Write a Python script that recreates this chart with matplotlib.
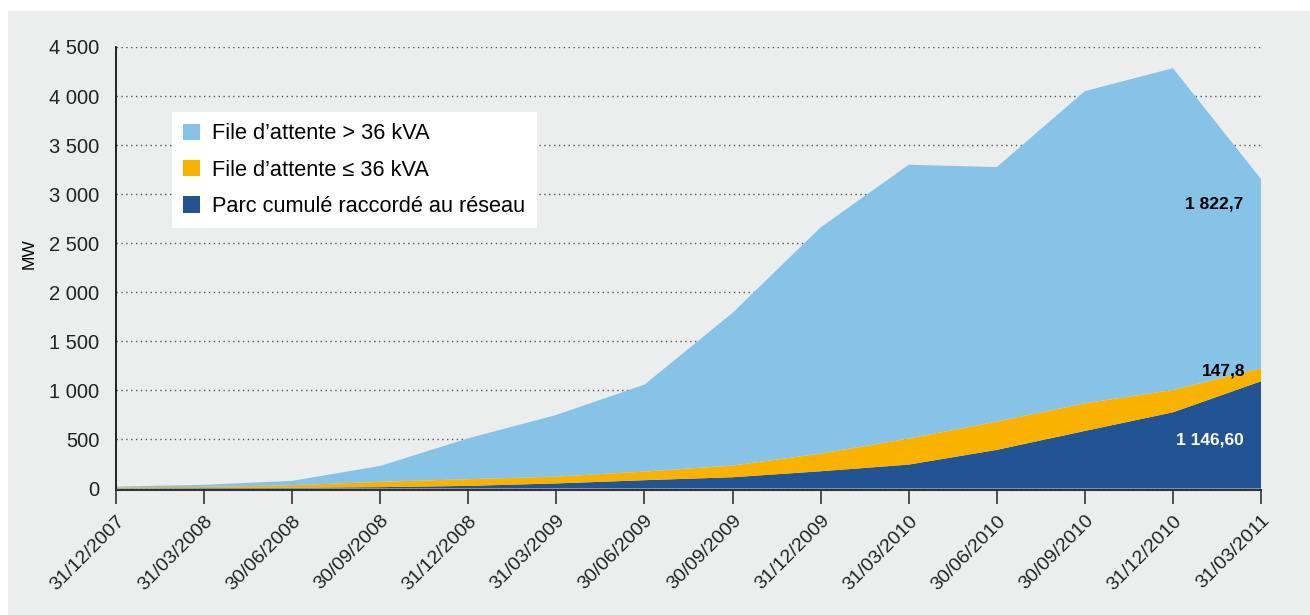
import matplotlib.pyplot as plt
import numpy as np
from matplotlib.patches import Rectangle

# %% Data (MW)

dates = [
    "31/12/2007", "31/03/2008", "30/06/2008", "30/09/2008", "31/12/2008",
    "31/03/2009", "30/06/2009", "30/09/2009", "31/12/2009", "31/03/2010",
    "30/06/2010", "30/09/2010", "31/12/2010", "31/03/2011",
]
# Cumulative installed capacity connected to the grid
parc = [3, 5, 8, 14, 27, 52, 85, 115, 176, 244, 394, 587, 777, 1093]
# Queue <= 36 kVA
file_petite = [9, 12, 26, 54, 68, 70, 88, 119, 180, 266, 288, 282, 228, 132]
# Queue > 36 kVA
file_grande = [8, 21, 44, 162, 417, 628, 886, 1556, 2305, 2790, 2594, 3181, 3279, 1929]

labels = [
    "File d\u2019attente > 36 kVA",
    "File d\u2019attente \u2264 36 kVA",
    "Parc cumulé raccordé au réseau",
]
yticks = np.arange(0, 4501, 500)

c_light = "#87c2e7"
c_orange = "#f9b200"
c_dark = "#225392"
c_bg = "#eceded"

# %% Figure

plt.rcParams["font.family"] = ["Liberation Sans", "DejaVu Sans"]

fig = plt.figure(figsize=(13.1, 6.15), dpi=100, facecolor="white")
fig.patches.append(
    Rectangle((8 / 1310, 0), 1, 1 - 11 / 615, transform=fig.transFigure,
              facecolor=c_bg, edgecolor="none", zorder=-10)
)
ax = fig.add_axes([116 / 1310, 1 - 490 / 615, (1261 - 116) / 1310, (490 - 47) / 615])
ax.set_facecolor(c_bg)

x = np.arange(len(dates))
ax.stackplot(
    x, parc, file_petite, file_grande,
    colors=[c_dark, c_orange, c_light], linewidth=0, zorder=2,
)

ax.set_xlim(0, len(dates) - 1)
ax.set_ylim(-15, 4500)
ax.set_yticks(yticks)
ax.set_yticklabels([f"{v:,}".replace(",", " ") for v in yticks], fontsize=14.5, color="#222222")
ax.set_xticks(x)
ax.set_xticklabels(dates, rotation=45, ha="right", rotation_mode="anchor",
                   fontsize=14, color="#222222")
ax.tick_params(axis="y", length=0, pad=12)
ax.tick_params(axis="x", length=10, width=1.2, color="#333333", pad=6)
ax.grid(axis="y", linestyle=(0, (1, 2.5)), color="#555555", linewidth=1, zorder=0)
ax.set_axisbelow(True)
for side in ["top", "right"]:
    ax.spines[side].set_visible(False)
ax.spines["left"].set_color("black")
ax.spines["left"].set_linewidth(1.2)
ax.spines["bottom"].set_color("#333333")
ax.spines["bottom"].set_linewidth(1.5)
ax.set_ylabel("MW", fontsize=12.5)
ax.yaxis.set_label_coords(-0.069, 0.533)

# Value labels for the last date
ax.text(12.8, 2902, "1 822,7", ha="right", va="center", fontsize=12.5,
        fontweight="bold", color="black", zorder=3)
ax.text(12.82, 1202, "147,8", ha="right", va="center", fontsize=12.5,
        fontweight="bold", color="black", zorder=3)
ax.text(12.8, 499, "1 146,60", ha="right", va="center", fontsize=12.5,
        fontweight="bold", color="white", zorder=3)

# Legend
handles = [
    Rectangle((0, 0), 1, 1, facecolor=c, edgecolor="none")
    for c in [c_light, c_orange, c_dark]
]
leg = ax.legend(
    handles, labels, loc="upper left", bbox_to_anchor=(0.049, 0.853),
    borderaxespad=0, fontsize=15.7, frameon=True, fancybox=False,
    handlelength=0.78, handleheight=0.78, handletextpad=0.55,
    labelspacing=0.7, borderpad=0.52,
)
leg.get_frame().set_facecolor("white")
leg.get_frame().set_edgecolor("none")
leg.get_frame().set_alpha(1)

fig.savefig("out.png", dpi=100, facecolor=fig.get_facecolor())
